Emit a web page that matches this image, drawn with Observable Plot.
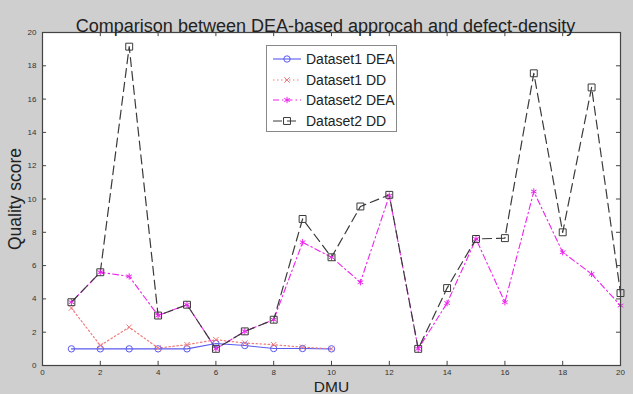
<!DOCTYPE html>
<html>
<head>
<meta charset="utf-8">
<script src="https://cdn.jsdelivr.net/npm/d3@7"></script>
<script src="https://cdn.jsdelivr.net/npm/@observablehq/plot@0.6"></script>
<style>
  html, body { margin: 0; padding: 0; background: #cfcfcf; }
  #wrap { position: relative; width: 633px; height: 394px; font-family: "Liberation Sans", Arial, sans-serif; }
  #legend { position: absolute; left: 266px; top: 45px; width: 131px; height: 87px; background: #fff; border: 1px solid #888; box-sizing: border-box; padding-top: 3px; }
  .row { display: flex; align-items: center; height: 20.5px; }
  .row svg { margin-left: 5px; margin-right: 4px; }
  .row span { font-size: 14px; color: #222; }
</style>
</head>
<body>
<div id="wrap"></div>
<script>
const title = "Comparison between DEA-based approcah and defect-density";
const xLabel = "DMU";
const yLabel = "Quality score";
const seriesNames = ["Dataset1 DEA", "Dataset1 DD", "Dataset2 DEA", "Dataset2 DD"];
const dmu1 = [1, 2, 3, 4, 5, 6, 7, 8, 9, 10];
const dmu2 = [1, 2, 3, 4, 5, 6, 7, 8, 9, 10, 11, 12, 13, 14, 15, 16, 17, 18, 19, 20];
const d1dea = [1, 1, 1, 1, 1, 1.32, 1.2, 1.02, 1.02, 1];
const d1dd = [3.45, 1.2, 2.3, 1.05, 1.25, 1.55, 1.35, 1.25, 1.1, 1.0];
const d2dea = [3.8, 5.6, 5.35, 3.0, 3.65, 1.0, 2.05, 2.75, 7.4, 6.5, 5.0, 10.2, 1.0, 3.75, 7.6, 3.8, 10.45, 6.8, 5.5, 3.6];
const d2dd = [3.8, 5.6, 19.15, 3.0, 3.65, 1.0, 2.05, 2.75, 8.8, 6.5, 9.55, 10.25, 1.0, 4.65, 7.6, 7.65, 17.55, 8.0, 16.7, 4.35];
const xTicks = [0, 2, 4, 6, 8, 10, 12, 14, 16, 18, 20];
const yTicks = [0, 2, 4, 6, 8, 10, 12, 14, 16, 18, 20];

const styles = [
  {color: "#5a5af0", dash: null, symbol: "circle", r: 3.2, width: 1.1},
  {color: "#f07a7a", dash: "1.5,2.5", symbol: "times", r: 2.6, width: 1.2},
  {color: "#ee22ee", dash: "6,3,1.5,3", symbol: "asterisk", r: 3, width: 1.1},
  {color: "#3a3a3a", dash: "9,5", symbol: "square", r: 3.9, width: 1.2}
];

const toRows = (xs, ys) => xs.map((x, i) => ({x, y: ys[i]}));
const series = [toRows(dmu1, d1dea), toRows(dmu1, d1dd), toRows(dmu2, d2dea), toRows(dmu2, d2dd)];

const marks = [Plot.frame({fill: "white"})];
series.forEach((data, i) => {
  const s = styles[i];
  marks.push(Plot.line(data, {x: "x", y: "y", stroke: s.color, strokeWidth: s.width, strokeDasharray: s.dash}));
});
series.forEach((data, i) => {
  const s = styles[i];
  marks.push(Plot.dot(data, {x: "x", y: "y", symbol: s.symbol, stroke: s.color, fill: "none", r: s.r, strokeWidth: 1}));
});
// inward ticks (MATLAB style) on all four sides
marks.push(
  Plot.ruleX(xTicks.slice(1, -1), {x: d => d, y1: 0, y2: 0.25, stroke: "#444"}),
  Plot.ruleX(xTicks.slice(1, -1), {x: d => d, y1: 20, y2: 19.75, stroke: "#444"}),
  Plot.ruleY(yTicks.slice(1, -1), {y: d => d, x1: 0, x2: 0.14, stroke: "#444"}),
  Plot.ruleY(yTicks.slice(1, -1), {y: d => d, x1: 20, x2: 19.86, stroke: "#444"}),
  Plot.frame({stroke: "#444", strokeWidth: 1.2}),
  Plot.axisX({ticks: xTicks, tickSize: 0, tickPadding: 4, fontSize: 8, color: "#333",
    label: xLabel, labelAnchor: "center", labelArrow: "none", labelOffset: 26}),
  Plot.axisY({ticks: yTicks, tickSize: 0, tickPadding: 6, fontSize: 8, color: "#333",
    label: yLabel, labelAnchor: "center", labelArrow: "none", labelOffset: 34}),
  Plot.text([title], {text: d => d, frameAnchor: "top", dy: -13, dx: -6, fontSize: 18, fill: "#222"})
);

const chart = Plot.plot({
  width: 633,
  height: 394,
  marginTop: 32,
  marginLeft: 42,
  marginRight: 13,
  marginBottom: 29,
  x: {domain: [0, 20]},
  y: {domain: [0, 20]},
  style: {background: "#cfcfcf", fontFamily: "Liberation Sans, Arial, sans-serif", overflow: "visible"},
  marks
});
// axis label font sizes
chart.querySelectorAll("g[aria-label='x-axis label'] text").forEach(t => { t.setAttribute("font-size", 15.5); t.setAttribute("fill", "#222"); });
chart.querySelectorAll("g[aria-label='y-axis label'] text").forEach(t => { t.setAttribute("font-size", 17.5); t.setAttribute("fill", "#222"); });

const wrap = document.getElementById("wrap");
wrap.appendChild(chart);

// legend
const legend = document.createElement("div");
legend.id = "legend";
seriesNames.forEach((name, i) => {
  const s = styles[i];
  const row = document.createElement("div");
  row.className = "row";
  const sw = d3.create("svg").attr("width", 30).attr("height", 10);
  sw.append("line").attr("x1", 1).attr("x2", 29).attr("y1", 5).attr("y2", 5)
    .attr("stroke", s.color).attr("stroke-width", s.width).attr("stroke-dasharray", s.dash);
  const symType = {circle: d3.symbolCircle, times: d3.symbolTimes, asterisk: d3.symbolAsterisk, square: d3.symbolSquare}[s.symbol];
  sw.append("path").attr("transform", "translate(15,5)")
    .attr("d", d3.symbol(symType, Math.PI * s.r * s.r)())
    .attr("fill", "none").attr("stroke", s.color);
  row.appendChild(sw.node());
  const sp = document.createElement("span");
  sp.textContent = name;
  row.appendChild(sp);
  legend.appendChild(row);
});
wrap.appendChild(legend);
</script>
</body>
</html>
